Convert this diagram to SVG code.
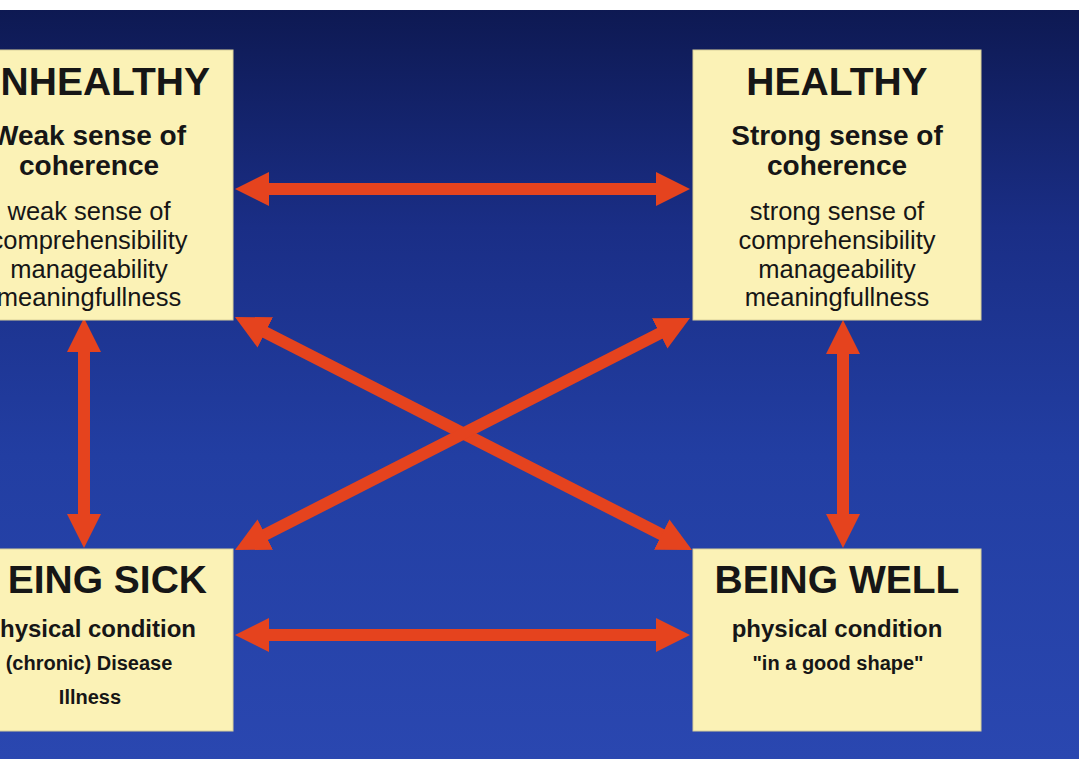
<svg xmlns="http://www.w3.org/2000/svg" width="1079" height="759" viewBox="0 0 1079 759">
  <defs>
    <linearGradient id="bg" x1="0" y1="0" x2="0" y2="1">
      <stop offset="0" stop-color="#0d1850"/>
      <stop offset="0.3" stop-color="#1a2e86"/>
      <stop offset="0.6" stop-color="#223ea2"/>
      <stop offset="1" stop-color="#2a47b0"/>
    </linearGradient>
    <marker id="head" markerUnits="userSpaceOnUse" markerWidth="36" markerHeight="36" viewBox="0 -18 36 36" refX="2" refY="0" orient="auto-start-reverse">
      <path d="M0,-17 L34,0 L0,17 Z" fill="#e5431e"/>
    </marker>
    <style>
      .box { fill: #fbf2b6; stroke: #d9d09a; stroke-width: 1; }
      .t { font-family: "Liberation Sans", Arial, sans-serif; fill: #161616; }
      .h1 { font-size: 39px; font-weight: bold; }
      .h2 { font-size: 28px; font-weight: bold; }
      .b  { font-size: 25.5px; }
      .p  { font-size: 24px; font-weight: bold; }
      .s  { font-size: 20px; font-weight: bold; }
      .mid { text-anchor: middle; }
      .end { text-anchor: end; }
      .arrow { stroke: #e5431e; stroke-width: 12; fill: none; marker-start: url(#head); marker-end: url(#head); }
    </style>
  </defs>

  <!-- backdrop -->
  <rect x="0" y="0" width="1079" height="759" fill="url(#bg)"/>
  <rect x="0" y="0" width="1079" height="10" fill="#ffffff"/>

  <!-- connectors -->
  <g id="connectors">
    <line class="arrow" x1="267" y1="189" x2="658" y2="189"/>
    <line class="arrow" x1="267" y1="635" x2="658" y2="635"/>
    <line class="arrow" x1="84" y1="350" x2="84" y2="516"/>
    <line class="arrow" x1="843" y1="352" x2="843" y2="516"/>
    <line class="arrow" x1="263.5" y1="331.5" x2="663.5" y2="535.5"/>
    <line class="arrow" x1="661.5" y1="332.5" x2="263.5" y2="535.5"/>
  </g>

  <!-- top-left node -->
  <g id="unhealthy">
    <rect class="box" x="-60" y="50" width="293" height="270"/>
    <text class="t h1 end" x="210" y="95">NHEALTHY</text>
    <text class="t h2 mid" x="89" y="145">Weak sense of</text>
    <text class="t h2 mid" x="89" y="175">coherence</text>
    <text class="t b mid" x="89" y="220">weak sense of</text>
    <text class="t b mid" x="89" y="249">comprehensibility</text>
    <text class="t b mid" x="89" y="278">manageability</text>
    <text class="t b mid" x="89" y="306">meaningfullness</text>
  </g>

  <!-- top-right node -->
  <g id="healthy">
    <rect class="box" x="693" y="50" width="288" height="270"/>
    <text class="t h1 mid" x="837" y="95">HEALTHY</text>
    <text class="t h2 mid" x="837" y="145">Strong sense of</text>
    <text class="t h2 mid" x="837" y="175">coherence</text>
    <text class="t b mid" x="837" y="220">strong sense of</text>
    <text class="t b mid" x="837" y="249">comprehensibility</text>
    <text class="t b mid" x="837" y="278">manageability</text>
    <text class="t b mid" x="837" y="306">meaningfullness</text>
  </g>

  <!-- bottom-left node -->
  <g id="being-sick">
    <rect class="box" x="-60" y="549" width="293" height="182"/>
    <text class="t h1 end" x="207" y="593">EING SICK</text>
    <text class="t p end" x="196" y="637">hysical condition</text>
    <text class="t s mid" x="89" y="670">(chronic) Disease</text>
    <text class="t s mid" x="90" y="704">Illness</text>
  </g>

  <!-- bottom-right node -->
  <g id="being-well">
    <rect class="box" x="693" y="549" width="288" height="182"/>
    <text class="t h1 mid" x="837" y="593">BEING WELL</text>
    <text class="t p mid" x="837" y="637">physical condition</text>
    <text class="t s mid" x="838" y="670">"in a good shape"</text>
  </g>
</svg>
